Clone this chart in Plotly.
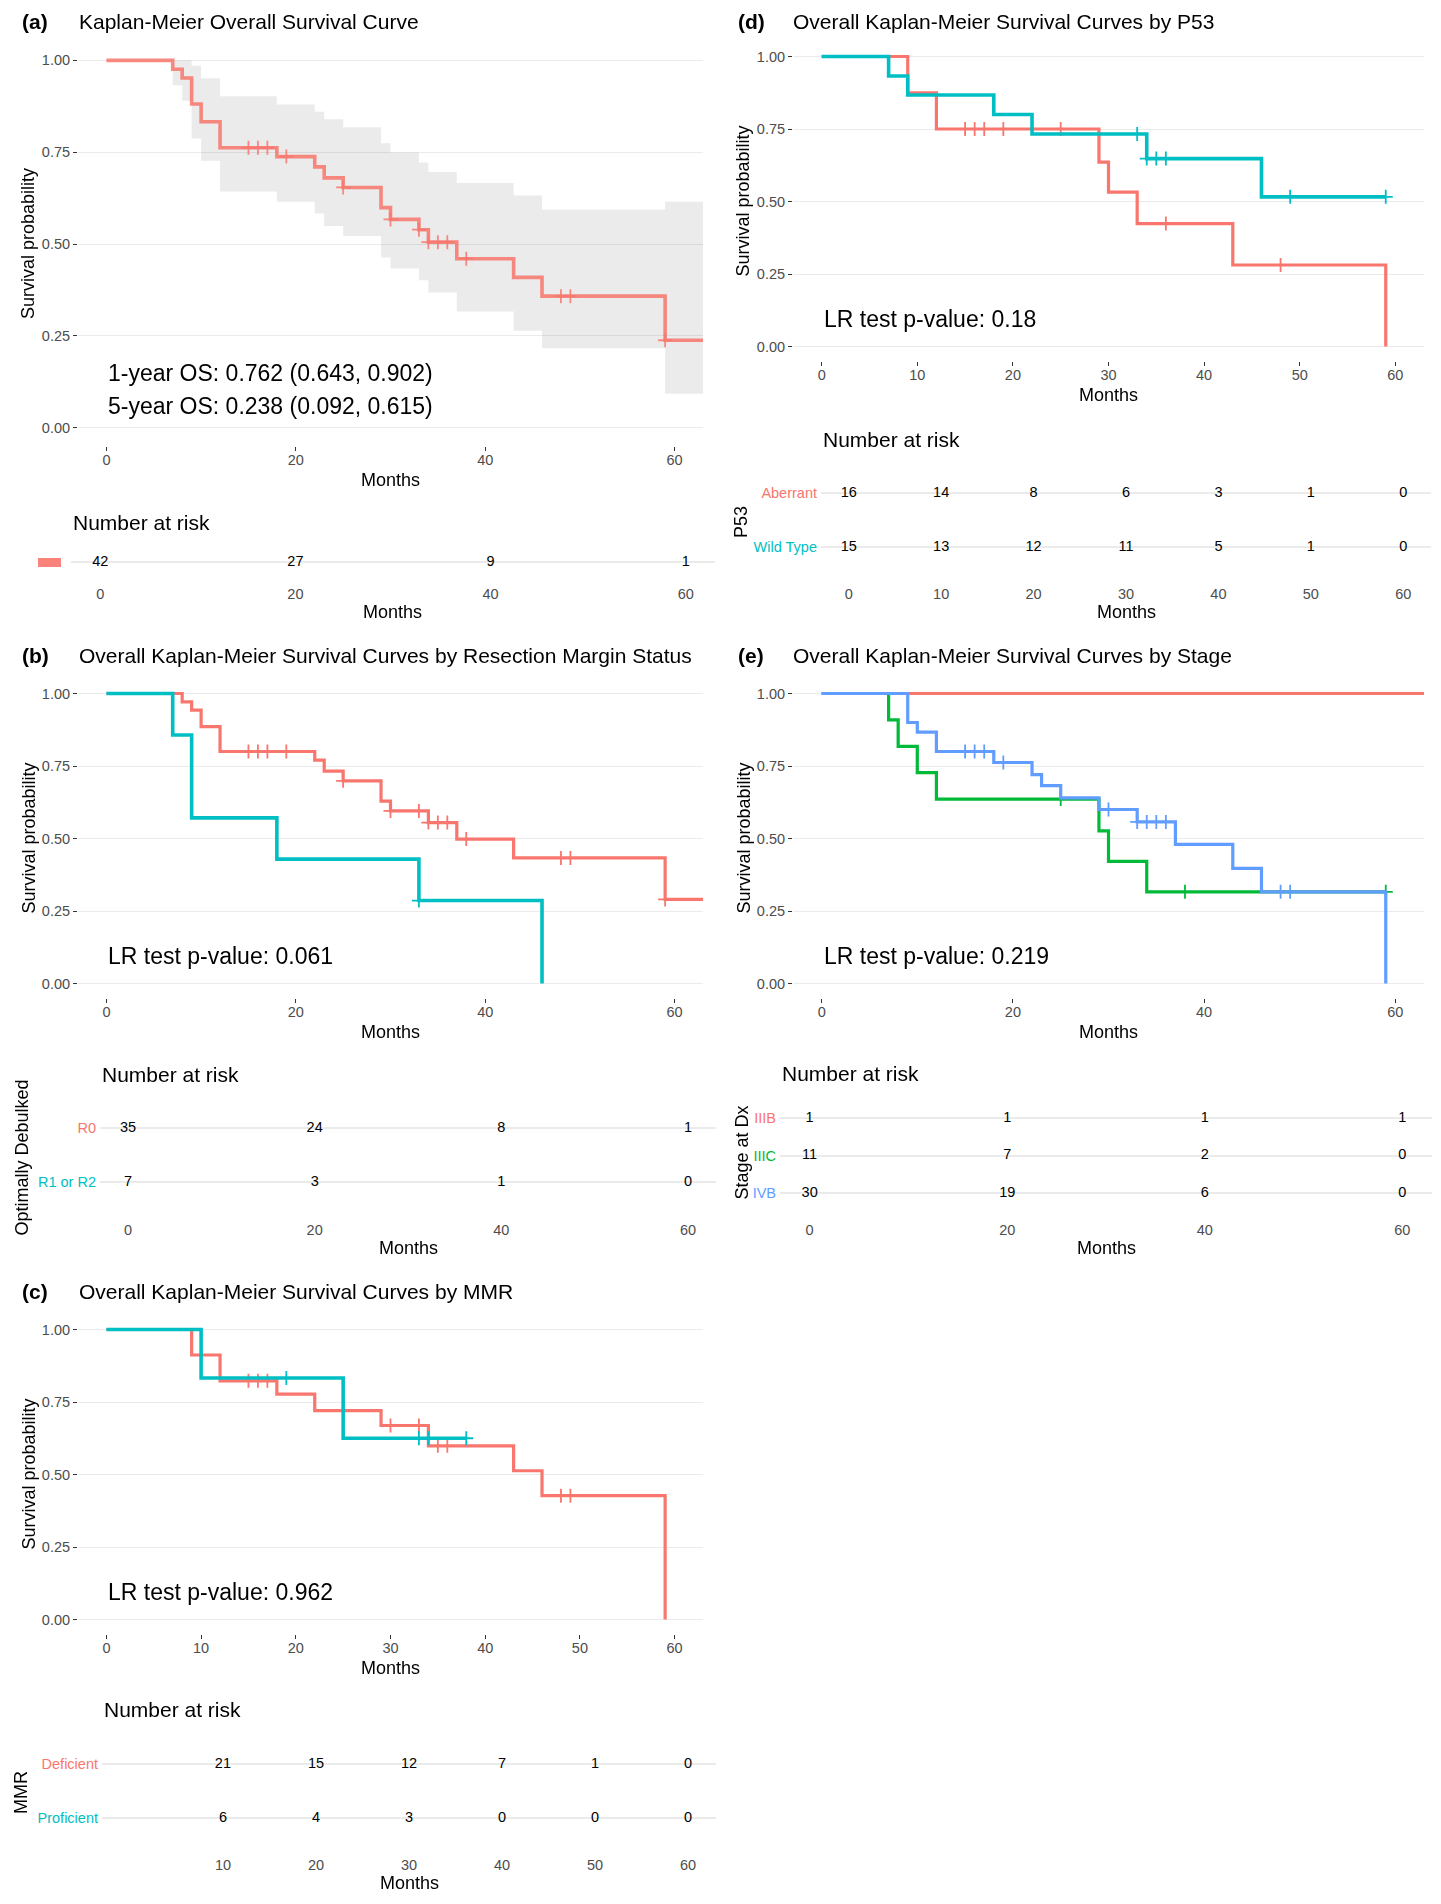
import plotly.graph_objects as go

W, H = 1441, 1904
FONT = "Liberation Sans, Arial, sans-serif"
RED, CYAN, GREEN, BLUE = "#F8766D", "#00BFC4", "#00BA38", "#619CFF"

# ---------------- data ----------------
# (a) overall
a_times = [0, 7, 8, 9, 10, 12, 18, 22, 23, 25, 29, 30, 33, 34, 37, 43, 46, 59]
a_surv = [1, 0.976, 0.952, 0.881, 0.833, 0.762, 0.738, 0.710, 0.680, 0.654, 0.599, 0.567, 0.539, 0.505, 0.460, 0.409, 0.358, 0.238]
a_upper = [1, 1, 1, 0.985, 0.951, 0.902, 0.880, 0.860, 0.840, 0.818, 0.774, 0.749, 0.722, 0.696, 0.666, 0.632, 0.594, 0.615]
a_lower = [1, 0.932, 0.890, 0.787, 0.727, 0.643, 0.615, 0.583, 0.549, 0.522, 0.463, 0.433, 0.401, 0.368, 0.316, 0.264, 0.216, 0.092]
a_censor = [15, 16, 17, 19, 25, 30, 33, 34, 35, 36, 38, 48, 49, 59]
a_end = 63
a_risk_times = [0, 20, 40, 60]
a_risk = [42, 27, 9, 1]

# (b) resection margin
b_r0_times = [0, 8, 9, 10, 12, 22, 23, 25, 29, 30, 34, 37, 43, 59]
b_r0_surv = [1, 0.971, 0.943, 0.886, 0.800, 0.770, 0.732, 0.699, 0.629, 0.595, 0.555, 0.498, 0.433, 0.290]
b_r0_censor = [15, 16, 17, 19, 25, 30, 33, 34, 35, 36, 38, 48, 49, 59]
b_r0_end = 63
b_r12_times = [0, 7, 9, 18, 33, 46]
b_r12_surv = [1, 0.857, 0.571, 0.429, 0.286, 0.0]
b_r12_censor = [33]
b_r12_end = 46
b_risk_times = [0, 20, 40, 60]
b_risk_labels = ["R0", "R1 or R2"]
b_risk_r0 = [35, 24, 8, 1]
b_risk_r12 = [7, 3, 1, 0]

# (c) MMR
c_def_times = [0, 9, 12, 18, 22, 29, 34, 43, 46, 59]
c_def_surv = [1, 0.912, 0.823, 0.777, 0.720, 0.669, 0.599, 0.513, 0.427, 0.0]
c_def_censor = [15, 16, 17, 30, 33, 35, 36, 48, 49]
c_def_end = 59
c_pro_times = [0, 10, 25]
c_pro_surv = [1, 0.833, 0.625]
c_pro_censor = [19, 33, 34, 38]
c_pro_end = 38
c_risk_times = [10, 20, 30, 40, 50, 60]
c_risk_labels = ["Deficient", "Proficient"]
c_risk_def = [21, 15, 12, 7, 1, 0]
c_risk_pro = [6, 4, 3, 0, 0, 0]

# (d) P53
d_ab_times = [0, 9, 12, 29, 30, 33, 43, 59]
d_ab_surv = [1, 0.875, 0.750, 0.636, 0.532, 0.424, 0.281, 0.0]
d_ab_censor = [15, 16, 17, 19, 25, 36, 48]
d_ab_end = 59
d_wt_times = [0, 7, 9, 18, 22, 34, 46]
d_wt_surv = [1, 0.933, 0.867, 0.800, 0.733, 0.648, 0.516]
d_wt_censor = [33, 34, 35, 36, 49, 59]
d_wt_end = 59
d_risk_times = [0, 10, 20, 30, 40, 50, 60]
d_risk_labels = ["Aberrant", "Wild Type"]
d_risk_ab = [16, 14, 8, 6, 3, 1, 0]
d_risk_wt = [15, 13, 12, 11, 5, 1, 0]

# (e) Stage
e_3b_times = [0]
e_3b_surv = [1]
e_3b_end = 63
e_3c_times = [0, 7, 8, 10, 12, 29, 30, 34]
e_3c_surv = [1, 0.909, 0.818, 0.727, 0.636, 0.526, 0.421, 0.316]
e_3c_censor = [25, 38, 59]
e_3c_end = 59
e_4b_times = [0, 9, 10, 12, 18, 22, 23, 25, 29, 33, 37, 43, 46, 59]
e_4b_surv = [1, 0.900, 0.867, 0.800, 0.762, 0.720, 0.682, 0.640, 0.600, 0.557, 0.480, 0.397, 0.316, 0.0]
e_4b_censor = [15, 16, 17, 19, 30, 33, 34, 35, 36, 48, 49]
e_4b_end = 59
e_risk_times = [0, 20, 40, 60]
e_risk_labels = ["IIIB", "IIIC", "IVB"]
e_risk_3b = [1, 1, 1, 1]
e_risk_3c = [11, 7, 2, 0]
e_risk_4b = [30, 19, 6, 0]

# ---------------- helpers ----------------
def dom_x(l, r):
    return [l / W, r / W]

def dom_y(t, b):
    return [1 - b / H, 1 - t / H]

def px(x):
    return x / W

def py(y):
    return 1 - y / H

def step_at(times, surv, t):
    v = surv[0]
    for tt, ss in zip(times, surv):
        if tt <= t:
            v = ss
    return v

fig = go.Figure()
layout = dict(width=W, height=H, autosize=False, margin=dict(l=0, r=0, t=0, b=0),
              paper_bgcolor="white", plot_bgcolor="white", showlegend=False,
              font=dict(family=FONT, color="black"))
annotations = []
shapes = []

def axname(i, k):
    return f"{k}axis" if i == 1 else f"{k}axis{i}"

def ref(i, k):
    return k if i == 1 else f"{k}{i}"

def surv_axes(i, xl, xr, yt, yb, xticks):
    layout[axname(i, "x")] = dict(domain=dom_x(xl, xr), range=[-3, 63], anchor=ref(i, "y"),
                                  tickvals=xticks, ticks="outside", ticklen=4, tickwidth=1.3,
                                  tickcolor="#333333", tickfont=dict(size=14.5, color="#4D4D4D", family=FONT),
                                  ticklabelstandoff=-3,
                                  showgrid=False, zeroline=False, showline=False, fixedrange=True)
    layout[axname(i, "y")] = dict(domain=dom_y(yt, yb), range=[-0.05, 1.05], anchor=ref(i, "x"),
                                  tickvals=[0, 0.25, 0.5, 0.75, 1.0],
                                  ticktext=["0.00", "0.25", "0.50", "0.75", "1.00"],
                                  ticks="outside", ticklen=4, tickwidth=1.3, tickcolor="#333333",
                                  tickfont=dict(size=14.5, color="#4D4D4D", family=FONT),
                                  showgrid=True, gridcolor="#EBEBEB", gridwidth=1.3,
                                  zeroline=False, showline=False, fixedrange=True)
    annotations.append(dict(x=px((xl + xr) / 2), y=py(yb + 34), xref="paper", yref="paper",
                            text="Months", showarrow=False, font=dict(size=18, family=FONT, color="black"),
                            xanchor="center", yanchor="middle"))
    annotations.append(dict(x=px(xl - 50), y=py((yt + yb) / 2), xref="paper", yref="paper",
                            text="Survival probability", showarrow=False, textangle=-90,
                            font=dict(size=18, family=FONT, color="black"),
                            xanchor="center", yanchor="middle"))

def km(i, times, surv, end, censor, color, width=3.2, opacity=1.0):
    xs = list(times) + [end]
    ys = list(surv) + [surv[-1]]
    fig.add_trace(go.Scatter(x=xs, y=ys, mode="lines", line=dict(color=color, width=width, shape="hv"),
                             opacity=opacity, xaxis=ref(i, "x"), yaxis=ref(i, "y"), hoverinfo="skip"))
    if censor:
        cy = [step_at(times, surv, c) for c in censor]
        fig.add_trace(go.Scatter(x=censor, y=cy, mode="markers", opacity=opacity,
                                 marker=dict(symbol="cross-thin", size=10, line=dict(color=color, width=1.8)),
                                 xaxis=ref(i, "x"), yaxis=ref(i, "y"), hoverinfo="skip"))

def risk_axes(i, xl, xr, rows_px, tick_px, labels, colors, xticks, title_txt, title_y,
              ytitle_x=None, ytitle=None):
    n = len(rows_px)
    T = rows_px[0] - 16
    B = tick_px - 10
    s = (rows_px[-1] - rows_px[0]) / (n - 1) if n > 1 else 30.0
    hi = (n - 1) + (rows_px[0] - T) / s
    lo = -(B - rows_px[-1]) / s
    layout[axname(i, "x")] = dict(domain=dom_x(xl, xr), range=[-3, 63], anchor=ref(i, "y"),
                                  tickvals=xticks, ticks="", tickfont=dict(size=14.5, color="#4D4D4D", family=FONT),
                                  showgrid=False, zeroline=False, showline=False, fixedrange=True)
    ya = dict(domain=dom_y(T, B), range=[lo, hi], anchor=ref(i, "x"),
              tickvals=[n - 1 - k for k in range(n)], ticks="",
              showgrid=True, gridcolor="#EBEBEB", gridwidth=1.6,
              zeroline=False, showline=False, fixedrange=True)
    if labels:
        ya["ticktext"] = [f'<span style="color:{c}">{lab}</span>' for lab, c in zip(labels, colors)]
        ya["tickfont"] = dict(size=14.5, family=FONT)
        ya["ticklabelstandoff"] = 3
    else:
        ya["showticklabels"] = False
    layout[axname(i, "y")] = ya
    annotations.append(dict(x=px(xl), y=py(title_y), xref="paper", yref="paper",
                            text=title_txt, showarrow=False, font=dict(size=21, family=FONT, color="black"),
                            xanchor="left", yanchor="middle"))
    annotations.append(dict(x=px((xl + xr) / 2), y=py(tick_px + 19), xref="paper", yref="paper",
                            text="Months", showarrow=False, font=dict(size=18, family=FONT, color="black"),
                            xanchor="center", yanchor="middle"))
    if ytitle:
        annotations.append(dict(x=px(ytitle_x), y=py((T + B) / 2 - 8), xref="paper", yref="paper",
                                text=ytitle, showarrow=False, textangle=-90,
                                font=dict(size=18, family=FONT, color="black"),
                                xanchor="center", yanchor="middle"))

def risk_row(i, times, values, row_val):
    fig.add_trace(go.Scatter(x=times, y=[row_val] * len(times), mode="text", text=[str(v) for v in values],
                             textposition="middle center", textfont=dict(size=14.5, color="black", family=FONT),
                             cliponaxis=False, xaxis=ref(i, "x"), yaxis=ref(i, "y"), hoverinfo="skip"))

def panel_title(letter, title, xl_letter, xl_title, y):
    annotations.append(dict(x=px(xl_letter), y=py(y), xref="paper", yref="paper", text=f"<b>({letter})</b>",
                            showarrow=False, font=dict(size=21, family=FONT, color="black"),
                            xanchor="left", yanchor="middle"))
    annotations.append(dict(x=px(xl_title), y=py(y), xref="paper", yref="paper", text=title,
                            showarrow=False, font=dict(size=21, family=FONT, color="black"),
                            xanchor="left", yanchor="middle"))

def data_text(i, x, y, text):
    annotations.append(dict(x=x, y=y, xref=ref(i, "x"), yref=ref(i, "y"), text=text, showarrow=False,
                            font=dict(size=23, family=FONT, color="black"), xanchor="left", yanchor="middle"))

# ---------------- panels ----------------
LX = (78, 703)
RX = (793, 1424)

# (a)
surv_axes(1, LX[0], LX[1], 42, 446, [0, 20, 40, 60])
fig.add_trace(go.Scatter(x=a_times + [a_end], y=a_upper + [a_upper[-1]], mode="lines",
                         line=dict(width=0, shape="hv"), xaxis="x", yaxis="y", hoverinfo="skip"))
fig.add_trace(go.Scatter(x=a_times + [a_end], y=a_lower + [a_lower[-1]], mode="lines",
                         line=dict(width=0, shape="hv"), fill="tonexty", fillcolor="rgba(0,0,0,0.08)",
                         xaxis="x", yaxis="y", hoverinfo="skip"))
km(1, a_times, a_surv, a_end, a_censor, RED, width=3.6, opacity=0.85)
data_text(1, 0, 0.150, "1-year OS: 0.762 (0.643, 0.902)")
data_text(1, 0, 0.058, "5-year OS: 0.238 (0.092, 0.615)")
panel_title("a", "Kaplan-Meier Overall Survival Curve", 20, 77, 22)

# (b)
surv_axes(2, LX[0], LX[1], 679, 998, [0, 20, 40, 60])
km(2, b_r0_times, b_r0_surv, b_r0_end, b_r0_censor, RED)
km(2, b_r12_times, b_r12_surv, b_r12_end, b_r12_censor, CYAN, width=3.6)
data_text(2, 0, 0.094, "LR test p-value: 0.061")
panel_title("b", "Overall Kaplan-Meier Survival Curves by Resection Margin Status", 20, 77, 655)

# (c)
surv_axes(3, LX[0], LX[1], 1315, 1634, [0, 10, 20, 30, 40, 50, 60])
km(3, c_def_times, c_def_surv, c_def_end, c_def_censor, RED)
km(3, c_pro_times, c_pro_surv, c_pro_end, c_pro_censor, CYAN, width=3.6)
data_text(3, 0, 0.094, "LR test p-value: 0.962")
panel_title("c", "Overall Kaplan-Meier Survival Curves by MMR", 20, 77, 1291)

# (d)
surv_axes(4, RX[0], RX[1], 42, 361, [0, 10, 20, 30, 40, 50, 60])
km(4, d_ab_times, d_ab_surv, d_ab_end, d_ab_censor, RED)
km(4, d_wt_times, d_wt_surv, d_wt_end, d_wt_censor, CYAN, width=3.6)
data_text(4, 0, 0.094, "LR test p-value: 0.18")
panel_title("d", "Overall Kaplan-Meier Survival Curves by P53", 736, 791, 22)

# (e)
surv_axes(5, RX[0], RX[1], 679, 998, [0, 20, 40, 60])
km(5, e_3b_times, e_3b_surv, e_3b_end, [], RED)
km(5, e_3c_times, e_3c_surv, e_3c_end, e_3c_censor, GREEN)
km(5, e_4b_times, e_4b_surv, e_4b_end, e_4b_censor, BLUE)
data_text(5, 0, 0.094, "LR test p-value: 0.219")
panel_title("e", "Overall Kaplan-Meier Survival Curves by Stage", 736, 791, 655)

# ---------------- risk tables ----------------
# (a)
risk_axes(6, 71, 715, [562], 593, None, None, a_risk_times, "Number at risk", 522)
risk_row(6, a_risk_times, a_risk, 0)
shapes.append(dict(type="rect", xref="paper", yref="paper", x0=px(38), x1=px(61),
                   y0=py(567), y1=py(558), fillcolor=RED, line=dict(width=0), opacity=0.9))

# (b)
risk_axes(7, 100, 716, [1128, 1182], 1229, b_risk_labels, [RED, CYAN], b_risk_times,
          "Number at risk", 1074, ytitle_x=21, ytitle="Optimally Debulked")
risk_row(7, b_risk_times, b_risk_r0, 1)
risk_row(7, b_risk_times, b_risk_r12, 0)

# (c)
risk_axes(8, 102, 716, [1764, 1818], 1864, c_risk_labels, [RED, CYAN], c_risk_times,
          "Number at risk", 1709, ytitle_x=21, ytitle="MMR")
risk_row(8, c_risk_times, c_risk_def, 1)
risk_row(8, c_risk_times, c_risk_pro, 0)

# (d)
risk_axes(9, 821, 1431, [493, 547], 593, d_risk_labels, [RED, CYAN], d_risk_times,
          "Number at risk", 439, ytitle_x=741, ytitle="P53")
risk_row(9, d_risk_times, d_risk_ab, 1)
risk_row(9, d_risk_times, d_risk_wt, 0)

# (e)
risk_axes(10, 780, 1432, [1118, 1155, 1193], 1229, e_risk_labels, [RED, GREEN, BLUE], e_risk_times,
          "Number at risk", 1073, ytitle_x=741, ytitle="Stage at Dx")
risk_row(10, e_risk_times, e_risk_3b, 2)
risk_row(10, e_risk_times, e_risk_3c, 1)
risk_row(10, e_risk_times, e_risk_4b, 0)

layout["annotations"] = annotations
layout["shapes"] = shapes
fig.update_layout(**layout)
fig.write_html(
    "out.html",
    config={"displayModeBar": False},
    post_script="document.body.style.margin='0px';document.body.style.padding='0px';"
                "document.documentElement.style.overflow='hidden';",
)
